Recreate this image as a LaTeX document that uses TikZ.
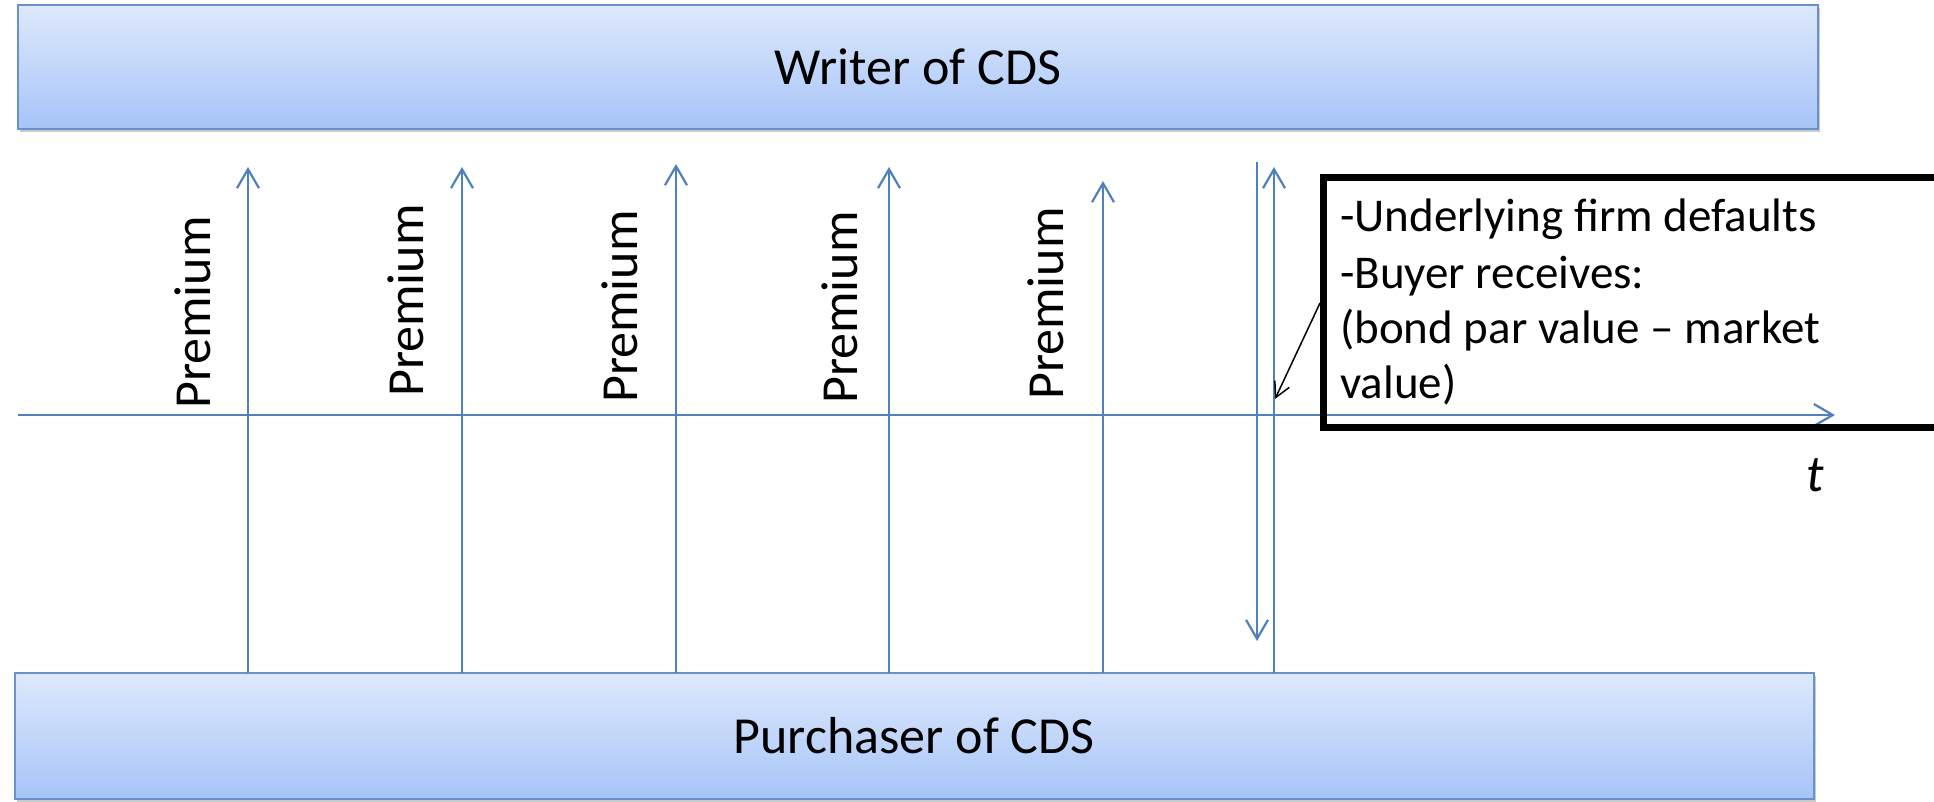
\documentclass[tikz,border=0pt]{standalone}
\usepackage{fontspec}
\setmainfont{Carlito}
\usetikzlibrary{arrows.meta,shadows}
\definecolor{lineblue}{RGB}{79,129,189}
\definecolor{boxtop}{RGB}{222,233,252}
\definecolor{boxbot}{RGB}{166,196,248}
\definecolor{boxedge}{RGB}{104,145,205}
\tikzset{
  cdsbox/.style={draw=boxedge, line width=2.5pt, top color=boxtop, bottom color=boxbot,
    drop shadow={shadow xshift=2pt, shadow yshift=-3pt, opacity=0.35, fill=black!60},
    font=\fontsize{52}{62}\selectfont},
  flow/.style={draw=lineblue, line width=2.2pt, -{Straight Barb[length=19pt,width=22pt,line width=2.2pt]}},
  premlabel/.style={rotate=90, anchor=base west, inner sep=0pt, font=\fontsize{52}{62}\selectfont},
  callout/.style={draw=black, line width=7pt, anchor=north west, inner sep=0pt, minimum width=700pt, minimum height=250pt},
  calltext/.style={anchor=base west, inner sep=0pt, font=\fontsize{47}{57}\selectfont},
}
\begin{document}
\begin{tikzpicture}[x=1pt,y=-1pt]
\useasboundingbox (0,0) rectangle (1934,801);
\clip (0,0) rectangle (1934,801);
% boxes
\path[cdsbox] (18,5) rectangle (1818,129);
\node (writer) at (918,67) [font=\fontsize{52}{62}\selectfont, inner sep=0pt] {Writer of CDS};
\path[cdsbox] (15,673) rectangle (1814,799);
\node (purchaser) at (914,736) [font=\fontsize{52}{62}\selectfont, inner sep=0pt] {Purchaser of CDS};
% timeline
\coordinate (tl0) at (18,415);
\coordinate (tl1) at (1835,415);
\draw[flow] (tl0) -- (tl1);
\node (t) at (1815,491) [anchor=base, inner sep=0pt, font=\fontsize{52}{62}\selectfont\itshape] {t};
% premium arrows
\foreach \i/\x/\tip in {1/248/167, 2/462/167, 3/676/164, 4/889/167, 5/1103/181}{
  \coordinate (pb\i) at (\x,673);
  \coordinate (pt\i) at (\x,\tip);
  \draw[flow] (pb\i) -- (pt\i);
}
\node[premlabel] (p1) at (210,409) {Premium};
\node[premlabel] (p2) at (423,397) {Premium};
\node[premlabel] (p3) at (637,403) {Premium};
\node[premlabel] (p4) at (857,404) {Premium};
\node[premlabel] (p5) at (1063,400) {Premium};
% default payment arrows
\coordinate (d0) at (1257,162);
\coordinate (d1) at (1257,641);
\draw[flow] (d0) -- (d1);
\coordinate (u0) at (1274,673);
\coordinate (u1) at (1274,167);
\draw[flow] (u0) -- (u1);
% callout
\node[callout] (box) at (1320,174) {};
\node[calltext] (l1) at (1340,231) {-Underlying firm defaults};
\node[calltext] (l2) at (1340,288) {-Buyer receives:};
\node[calltext] (l3) at (1340,343) {(bond par value -- market};
\node[calltext] (l4) at (1340,398) {value)};
\coordinate (ctip) at (1275,399);
\draw[black, line width=1.5pt, -{Straight Barb[length=15pt,width=16pt,line width=1.5pt]}] (box.west |- 0,303) -- (ctip);
\end{tikzpicture}
\end{document}
